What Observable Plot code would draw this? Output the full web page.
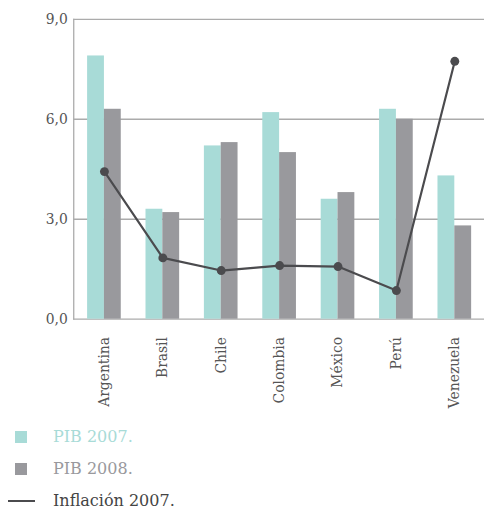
<!DOCTYPE html>
<html>
<head>
<meta charset="utf-8">
<script src="https://cdn.jsdelivr.net/npm/d3@7"></script>
<script src="https://cdn.jsdelivr.net/npm/@observablehq/plot@0.6"></script>
<style>
  html, body { margin: 0; padding: 0; background: #fff; overflow: hidden; }
  body { width: 484px; height: 507px; font-family: "DejaVu Serif", serif; }
  #chart svg { display: block; }
  .legend { position: relative; margin: 0; padding: 5px 0 0 0; }
  .row { position: relative; height: 32px; line-height: 32px; font-size: 16px; font-family: "DejaVu Serif", serif; }
  .row .sw { position: absolute; left: 15px; top: 10px; width: 12px; height: 12px; }
  .row .ln { position: absolute; left: 8px; top: 15px; width: 27px; height: 2px; }
  .row .tx { position: absolute; left: 53px; top: 0; white-space: nowrap; }
</style>
</head>
<body>
<div id="chart"></div>
<div class="legend" id="legend"></div>
<script>
// Países y series (% anual)
const paises = ["Argentina", "Brasil", "Chile", "Colombia", "México", "Perú", "Venezuela"];
const pib2007 = [7.9, 3.3, 5.2, 6.2, 3.6, 6.3, 4.3];
const pib2008 = [6.3, 3.2, 5.3, 5.0, 3.8, 6.0, 2.8];
const inflacion2007 = [4.43, 1.84, 1.46, 1.61, 1.58, 0.86, 7.74];
const yTicks = [0, 3, 6, 9];

const colorPib2007 = "#a8dbd7";
const colorPib2008 = "#99999d";
const colorInflacion = "#4b4b4e";
const gridColor = "#ababab";

const rows = paises.map((pais, i) => ({
  pais,
  pib2007: pib2007[i],
  pib2008: pib2008[i],
  inflacion: inflacion2007[i]
}));

const fmt = d => d3.format(".1f")(d).replace(".", ",");

const chart = Plot.plot({
  width: 489,
  height: 420,
  marginLeft: 74,
  marginRight: 0,
  marginTop: 19,
  marginBottom: 98,
  style: { fontFamily: "DejaVu Serif, serif", fontSize: "14px", color: "#555", background: "transparent" },
  x: { domain: paises, paddingInner: 0.43, paddingOuter: 0.21, label: null },
  y: { domain: [0, 9], label: null },
  marks: [
    Plot.gridY(yTicks, { stroke: gridColor, strokeOpacity: 1, strokeWidth: 1.3 }),
    Plot.frame({ anchor: "left", stroke: gridColor, strokeWidth: 1.3 }),
    // PIB 2007 en la mitad izquierda de cada banda, PIB 2008 en la derecha
    Plot.barY(rows, { x: "pais", y: "pib2007", fill: colorPib2007, insetLeft: 0, insetRight: 17 }),
    Plot.barY(rows, { x: "pais", y: "pib2008", fill: colorPib2008, insetLeft: 17, insetRight: 0 }),
    Plot.line(rows, { x: "pais", y: "inflacion", stroke: colorInflacion, strokeWidth: 2.2 }),
    Plot.dot(rows, { x: "pais", y: "inflacion", r: 4.5, fill: colorInflacion }),
    Plot.axisY({ ticks: yTicks, tickFormat: fmt, tickSize: 0, tickPadding: 6, fontSize: 14, fill: "#555", label: null }),
    Plot.axisX({ tickRotate: -90, tickSize: 0, tickPadding: 18, fontSize: 14, fill: "#555", label: null })
  ]
});
document.getElementById("chart").appendChild(chart);

// Leyenda
const legendItems = [
  { label: "PIB 2007.", color: colorPib2007, kind: "square" },
  { label: "PIB 2008.", color: colorPib2008, kind: "square" },
  { label: "Inflación 2007.", color: colorInflacion, kind: "line" }
];
const legend = document.getElementById("legend");
for (const item of legendItems) {
  const row = document.createElement("div");
  row.className = "row";
  const mark = document.createElement("span");
  mark.className = item.kind === "square" ? "sw" : "ln";
  mark.style.background = item.color;
  const text = document.createElement("span");
  text.className = "tx";
  text.textContent = item.label;
  text.style.color = item.kind === "square" ? item.color : "#444";
  row.appendChild(mark);
  row.appendChild(text);
  legend.appendChild(row);
}
</script>
</body>
</html>
